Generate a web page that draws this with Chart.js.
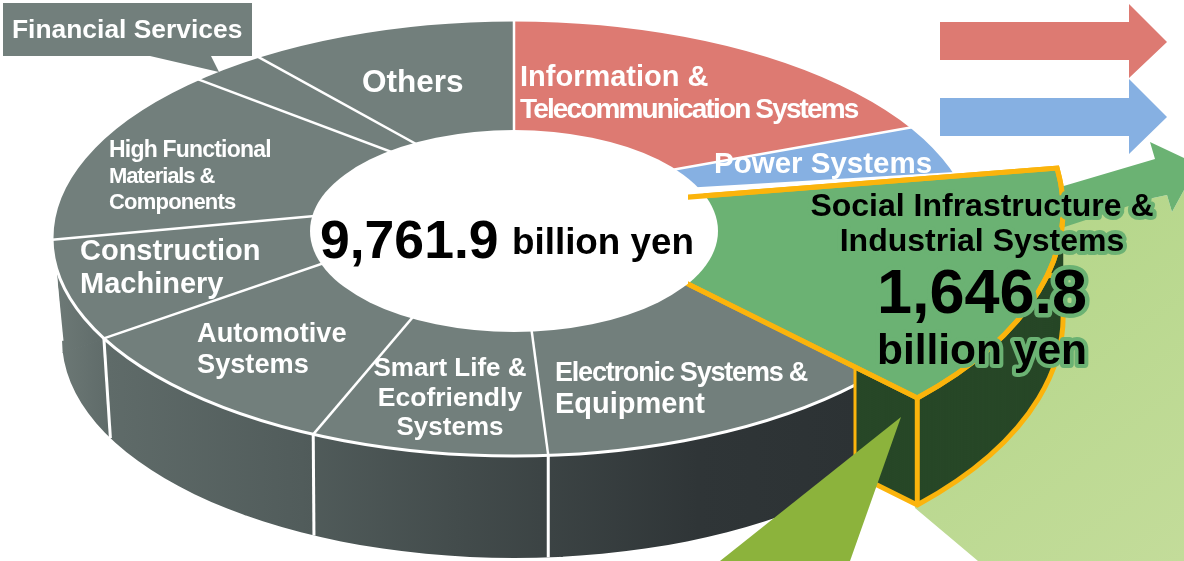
<!DOCTYPE html>
<html lang="en">
<head>
  <meta charset="UTF-8">
  <title>Revenues by segment</title>
  <script src="https://cdn.jsdelivr.net/npm/chart.js"></script>
  <style>
    body { margin: 0; background: #fff; }
    canvas { display: block; }
  </style>
</head>
<body>
  <canvas id="segmentChart" width="1184" height="561"></canvas>

  <script>
    // data (billion yen), clockwise from 12 o'clock
    const categories = ['Information & Telecommunication Systems', 'Power Systems',
      'Social Infrastructure & Industrial Systems', 'Electronic Systems & Equipment',
      'Smart Life & Ecofriendly Systems', 'Automotive Systems', 'Construction Machinery',
      'High Functional Materials & Components', 'Financial Services', 'Others'];
    const revenues = [1776.1, 431.1, 1646.8, 946.4, 577.6, 824.3, 764.7, 1545.6, 292.9, 956.4];
    const totalLabel = '9,761.9';
    const unitLabel = 'billion yen';
    const highlightLabel = '1,646.8';

    const GREY = '#727f7c', RED = '#dd7a72', BLUE = '#86b0e2', GREEN = '#6bb273';
    const DARK_GREEN = '#274727', ORANGE = '#fbb40c', OLIVE = '#8cb33c';
    const sliceColors = [RED, BLUE, GREEN, GREY, GREY, GREY, GREY, GREY, GREY, GREY];
    const HIGHLIGHT = 2; // index of the pulled out slice

    // the disc is drawn in perspective: slices fan out from a point above the centre of the ellipse
    const APEX_Y = 198, CX = 514, FAN_K = 0.39;
    const TOP = { x: 514, y: 238, rx: 462, ry: 218 };
    const BOTTOM = { x: 514, y: 340, rx: 452, ry: 218, apexY: 300 };
    const HOLE = { x: 514, y: 231, rx: 204, ry: 101 };
    const WEDGE = { x: 537, y: 209, r: 526, k: 0.52, sweepEnd: 133.7, drop: 107 };

    const FONT = '"Liberation Sans", Arial, sans-serif';

    function polygon(ctx, pts, fill) {
      ctx.beginPath();
      pts.forEach((p, i) => i ? ctx.lineTo(p[0], p[1]) : ctx.moveTo(p[0], p[1]));
      ctx.closePath();
      ctx.fillStyle = fill;
      ctx.fill();
    }

    function text(ctx, str, x, y, size, o = {}) {
      ctx.font = 'bold ' + size + 'px ' + FONT;
      ctx.textAlign = o.align || 'left';
      ctx.textBaseline = 'alphabetic';
      ctx.letterSpacing = (o.spacing || 0) + 'px';
      if (o.glow) {
        ctx.strokeStyle = GREEN;
        ctx.lineWidth = o.glow;
        ctx.lineJoin = 'round';
        ctx.strokeText(str, x, y);
      }
      ctx.fillStyle = o.color || '#fff';
      ctx.fillText(str, x, y);
      ctx.letterSpacing = '0px';
    }

    // draw a chart arc through a canvas transform, with some props swapped for the call
    function drawArc(ctx, arc, place, options, props = {}) {
      const savedProps = {};
      Object.keys(props).forEach(k => { savedProps[k] = arc[k]; arc[k] = props[k]; });
      const savedOptions = arc.options;
      arc.options = Object.assign({}, savedOptions, options);
      ctx.save();
      ctx.translate(place.x, place.y);
      ctx.scale(1, place.k);
      ctx.translate(-arc.x, -arc.y);
      arc.draw(ctx);
      ctx.restore();
      arc.options = savedOptions;
      Object.assign(arc, savedProps);
    }

    // where a slice edge leaves the fan point and hits an ellipse
    function edgePoint(chartAngle, apexY, e) {
      const dx = Math.cos(chartAngle), dy = Math.sin(chartAngle) * FAN_K;
      const oy = apexY - e.y;
      const a = dx * dx / (e.rx * e.rx) + dy * dy / (e.ry * e.ry);
      const b = 2 * oy * dy / (e.ry * e.ry);
      const c = oy * oy / (e.ry * e.ry) - 1;
      const s = (-b + Math.sqrt(b * b - 4 * a * c)) / (2 * a);
      return [e.x + dx * s, apexY + dy * s];
    }

    function wedgePath(ctx, arc, end, dy) {
      ctx.beginPath();
      ctx.moveTo(WEDGE.x, WEDGE.y + dy);
      ctx.ellipse(WEDGE.x, WEDGE.y + dy, WEDGE.r, WEDGE.r * WEDGE.k, 0,
        Math.atan2(Math.sin(arc.startAngle), Math.cos(arc.startAngle)), end);
      ctx.closePath();
    }

    const pseudoPie = {
      id: 'pseudoPie',
      beforeDatasetsDraw(chart) {
        const ctx = chart.ctx;
        const arcs = chart.getDatasetMeta(0).data;
        const place = { x: CX, y: APEX_Y, k: FAN_K };
        const wedge = arcs[HIGHLIGHT];
        const wedgeEnd = (WEDGE.sweepEnd - 90) * Math.PI / 180;

        // arrows behind the pie
        const lg = ctx.createLinearGradient(950, 250, 1184, 561);
        lg.addColorStop(0, '#b4d689');
        lg.addColorStop(1, '#c3dc9a');
        polygon(ctx, [[1040, 228], [1153, 198], [1167, 195], [1172, 212], [1184, 190], [1184, 561], [978, 561], [915, 508], [900, 300]], lg);
        polygon(ctx, [[1040, 193], [1155, 159], [1150, 142], [1184, 158], [1184, 190], [1172, 212], [1167, 195], [1153, 198], [1040, 235]], GREEN);
        polygon(ctx, [[940, 22], [1129, 22], [1129, 4], [1167, 42], [1129, 78], [1129, 60], [940, 60]], RED);
        polygon(ctx, [[940, 98], [1129, 98], [1129, 79], [1167, 117], [1129, 154], [1129, 136], [940, 136]], BLUE);

        // side wall: silhouette is both ellipses and the band joining them
        const gx = x => x - CX + wedge.x;
        const side = ctx.createLinearGradient(gx(52), 0, gx(860), 0);
        side.addColorStop(0, '#6e7a77');
        side.addColorStop(0.07, '#5f6b69');
        side.addColorStop(0.31, '#515c5b');
        side.addColorStop(0.5, '#434c4c');
        side.addColorStop(0.8, '#2f3537');
        side.addColorStop(1, '#2c3234');
        const bandTop = TOP.y + 31, bandHalf = TOP.rx * 0.99;
        ctx.save();
        ctx.beginPath();
        ctx.ellipse(TOP.x, TOP.y, TOP.rx, TOP.ry, 0, 0, Math.PI * 2);
        ctx.moveTo(BOTTOM.x + BOTTOM.rx, BOTTOM.y);
        ctx.ellipse(BOTTOM.x, BOTTOM.y, BOTTOM.rx, BOTTOM.ry, 0, 0, Math.PI * 2);
        ctx.moveTo(TOP.x - bandHalf, bandTop);
        ctx.lineTo(TOP.x + bandHalf, bandTop);
        ctx.lineTo(BOTTOM.x + BOTTOM.rx, BOTTOM.y);
        ctx.lineTo(BOTTOM.x - BOTTOM.rx, BOTTOM.y);
        ctx.closePath();
        ctx.clip();
        arcs.forEach(a => drawArc(ctx, a, place, { backgroundColor: side, borderColor: side, borderWidth: 2 }));
        ctx.restore();

        // white edges down the wall
        ctx.strokeStyle = '#fff';
        ctx.lineWidth = 3;
        arcs.forEach((a, i) => {
          if (i === HIGHLIGHT || i === HIGHLIGHT + 1) return;
          const p = edgePoint(a.startAngle, APEX_Y, TOP);
          if (p[1] < TOP.y) return;
          const q = edgePoint(a.startAngle, BOTTOM.apexY, BOTTOM);
          ctx.beginPath();
          ctx.moveTo(p[0], p[1]);
          ctx.lineTo(q[0], q[1]);
          ctx.stroke();
        });

        // top face
        ctx.save();
        ctx.beginPath();
        ctx.ellipse(TOP.x, TOP.y, TOP.rx, TOP.ry, 0, 0, Math.PI * 2);
        ctx.clip();
        ctx.fillStyle = '#fff';
        ctx.fill();
        arcs.forEach((a, i) => {
          if (i !== HIGHLIGHT) drawArc(ctx, a, place, { borderWidth: 0 });
        });
        ctx.strokeStyle = '#fff';
        ctx.lineWidth = 2.5;
        arcs.forEach((a, i) => {
          if (i === HIGHLIGHT || i === HIGHLIGHT + 1) return;
          const p = edgePoint(a.startAngle, APEX_Y, TOP);
          ctx.beginPath();
          ctx.moveTo(CX, APEX_Y);
          ctx.lineTo(p[0], p[1]);
          ctx.stroke();
        });
        ctx.restore();
        ctx.strokeStyle = '#fff';
        ctx.lineWidth = 3;
        ctx.beginPath();
        ctx.ellipse(TOP.x, TOP.y, TOP.rx, TOP.ry, 0, 0, Math.PI * 2);
        ctx.stroke();

        // pulled out slice: walls first, then its face
        ctx.save();
        ctx.beginPath();
        ctx.rect(855, 0, 400, 561);
        ctx.clip();
        const wedgeProps = { endAngle: wedgeEnd, circumference: wedgeEnd - wedge.startAngle, outerRadius: WEDGE.r };
        for (let dy = WEDGE.drop; dy >= 0; dy -= 2) {
          drawArc(ctx, wedge, { x: WEDGE.x, y: WEDGE.y + dy, k: WEDGE.k },
            { backgroundColor: DARK_GREEN, borderWidth: 0 }, wedgeProps);
        }
        wedgePath(ctx, wedge, wedgeEnd, WEDGE.drop);
        ctx.strokeStyle = ORANGE;
        ctx.lineWidth = 5;
        ctx.lineJoin = 'miter';
        ctx.stroke();
        ctx.restore();
        // upright edges of the cut
        const corner = [WEDGE.x + WEDGE.r * Math.cos(wedgeEnd), WEDGE.y + WEDGE.r * WEDGE.k * Math.sin(wedgeEnd)];
        ctx.strokeStyle = ORANGE;
        ctx.lineWidth = 5;
        ctx.beginPath();
        ctx.moveTo(corner[0], corner[1]);
        ctx.lineTo(corner[0], corner[1] + WEDGE.drop);
        ctx.stroke();
        ctx.lineWidth = 3;
        ctx.beginPath();
        ctx.moveTo(855, 368);
        ctx.lineTo(855, 368 + WEDGE.drop);
        ctx.stroke();

        drawArc(ctx, wedge, { x: WEDGE.x, y: WEDGE.y, k: WEDGE.k }, { borderWidth: 0 }, wedgeProps);
        wedgePath(ctx, wedge, wedgeEnd, 0);
        ctx.strokeStyle = ORANGE;
        ctx.lineWidth = 5;
        ctx.stroke();

        // hole
        ctx.fillStyle = '#fff';
        ctx.beginPath();
        ctx.ellipse(HOLE.x, HOLE.y, HOLE.rx, HOLE.ry, 0, 0, Math.PI * 2);
        ctx.fill();

        // the orange outline runs a little way over the hole
        ctx.save();
        ctx.beginPath();
        ctx.rect(688, 0, 500, 561);
        ctx.clip();
        wedgePath(ctx, wedge, wedgeEnd, 0);
        ctx.stroke();
        ctx.restore();

        // arrow in front of the wall
        polygon(ctx, [[901, 417], [850, 561], [720, 561]], OLIVE);

        // callout for the thin slice
        polygon(ctx, [[3, 3], [252, 3], [252, 56], [211, 56], [219, 72], [150, 56], [3, 56]], GREY);

        text(ctx, 'Financial Services', 12, 38, 26.4);
        text(ctx, 'Others', 362, 92, 31.5);
        text(ctx, 'Information &', 520, 86, 29);
        text(ctx, 'Telecommunication Systems', 520, 118, 28, { spacing: -1.85 });
        text(ctx, 'Power Systems', 714, 173, 29.5);
        text(ctx, 'High Functional', 109, 157, 23, { spacing: -0.8 });
        text(ctx, 'Materials &', 109, 183, 22, { spacing: -1.1 });
        text(ctx, 'Components', 109, 209, 22, { spacing: -0.8 });
        text(ctx, 'Construction', 80, 260, 29);
        text(ctx, 'Machinery', 80, 293, 29);
        text(ctx, 'Automotive', 197, 342, 27.2);
        text(ctx, 'Systems', 197, 373, 27.2);
        text(ctx, 'Smart Life &', 450, 376, 26, { align: 'center' });
        text(ctx, 'Ecofriendly', 450, 406, 26.5, { align: 'center' });
        text(ctx, 'Systems', 450, 435, 26, { align: 'center' });
        text(ctx, 'Electronic Systems &', 555, 381, 27, { spacing: -1.2 });
        text(ctx, 'Equipment', 555, 413, 29);

        text(ctx, totalLabel, 320, 258, 53.5, { color: '#000' });
        text(ctx, unitLabel, 512, 254, 36.8, { color: '#000' });

        text(ctx, 'Social Infrastructure &', 982, 216, 32, { color: '#000', align: 'center', glow: 8 });
        text(ctx, 'Industrial Systems', 982, 251, 32, { color: '#000', align: 'center', glow: 8 });
        text(ctx, highlightLabel, 982, 313, 63, { color: '#000', align: 'center', glow: 9 });
        text(ctx, unitLabel, 982, 364, 42.5, { color: '#000', align: 'center', glow: 8 });

        return false;
      }
    };

    new Chart(document.getElementById('segmentChart'), {
      type: 'doughnut',
      data: {
        labels: categories,
        datasets: [{ data: revenues, backgroundColor: sliceColors, borderWidth: 0 }]
      },
      options: {
        responsive: false,
        animation: false,
        events: [],
        radius: 1600,
        cutout: 0,
        plugins: { legend: { display: false }, tooltip: { enabled: false } }
      },
      plugins: [pseudoPie]
    });
  </script>
</body>
</html>
